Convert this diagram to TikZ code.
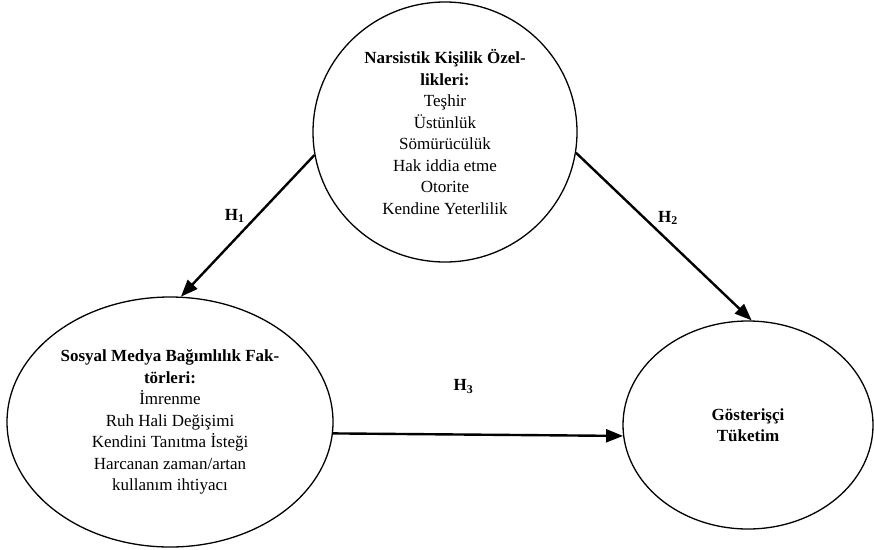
\documentclass[tikz,border=0pt]{standalone}
\usepackage{fontspec}
\setmainfont{Liberation Serif}
\usetikzlibrary{arrows.meta,shapes.geometric}
\begin{document}
\begin{tikzpicture}[x=1pt, y=-1pt,
    oval/.style={ellipse, draw, line width=1.3pt, inner sep=0, align=center, font=\fontsize{17}{21.5}\selectfont},
    hyp/.style={line width=2.4pt, -{Triangle[length=17pt, width=13pt]}},
    hlabel/.style={font=\fontsize{17}{18}\selectfont\bfseries, inner sep=2pt}]
                \useasboundingbox (0,0) rectangle (874,549);

                \node[oval, minimum width=264, minimum height=260](narsist) at (445,132) {\textbf{Narsistik Kişilik Özel-}\\\textbf{likleri:}\\Teşhir\\Üstünlük\\Sömürücülük\\Hak iddia etme\\Otorite\\Kendine Yeterlilik};
                \node[oval, minimum width=326, minimum height=250](sosyal) at (170,422) {\textbf{Sosyal Medya Bağımlılık Fak-}\\\textbf{törleri:}\\İmrenme\\Ruh Hali Değişimi\\Kendini Tanıtma İsteği\\Harcanan zaman/artan\\kullanım ihtiyacı};
                \node[oval, minimum width=250, minimum height=208](tuketim) at (748,425) {\textbf{Gösterişçi}\\\textbf{Tüketim}};

                                \draw[hyp] (narsist.190) -- node[hlabel, midway, above left] {H\textsubscript{1}} (sosyal.85);
                                \draw[hyp] (narsist.-9.5) -- node[hlabel, pos=0.45, above right] {H\textsubscript{2}} (tuketim.88);
                                \draw[hyp] (sosyal.-4) -- node[hlabel, pos=0.45, above=38pt] {H\textsubscript{3}} (tuketim.185);

                   \end{tikzpicture}
\end{document}
